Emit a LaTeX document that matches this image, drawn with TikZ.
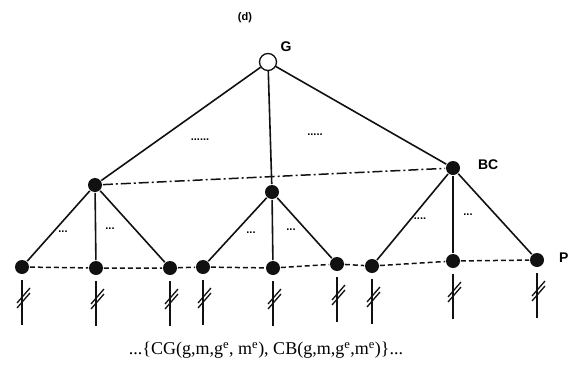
\documentclass[tikz,border=0pt]{standalone}
\usepackage{fontspec}
\setmainfont{Liberation Serif}
\setsansfont{Liberation Sans}
\usetikzlibrary{calc}
\definecolor{ink}{HTML}{111111}

\begin{document}
\begin{tikzpicture}[
    x=1pt, y=-1pt,
    line width=1.6pt,
    every node/.style={font=\sffamily\bfseries},
    leaf/.style={circle, fill=ink, inner sep=0pt, minimum size=14pt},
    root/.style={circle, draw=ink, fill=white, line width=1.3pt, inner sep=0pt, minimum size=17pt},
    rowdash/.style={draw=ink, line width=1.5pt, dash pattern=on 5pt off 3pt},
    rowdashdot/.style={draw=ink, line width=1.5pt, dash pattern=on 10pt off 3pt on 2pt off 3pt},
    gap/.style={font=\sffamily\bfseries\fontsize{11}{12}\selectfont, inner sep=0pt},
    tagfont/.style={font=\sffamily\bfseries\fontsize{14}{16}\selectfont},
  ]
  \useasboundingbox (0,0) rectangle (568,370);

  % ---------- Root and panel tag ------------------------------------------
  \node[font=\sffamily\bfseries\fontsize{11}{12}\selectfont] (tag) at (245,18) {(d)};
  \node[root] (G) at (268,62) {};
  \node[tagfont] (Glabel) at (286,47) {G};

  % ---------- Middle level ------------------------------------------------
  \node[leaf] (m1) at (95,185) {};
  \node[leaf] (m2) at (272,192) {};
  \node[leaf] (m3) at (453,168) {};
  \node[tagfont, anchor=west] (BClabel) at (474,165) {BC};

  % ---------- Leaves ------------------------------------------------------
  \node[leaf] (l1) at (22,267) {};
  \node[leaf] (l2) at (96,268) {};
  \node[leaf] (l3) at (170,268) {};
  \node[leaf] (l4) at (203,267) {};
  \node[leaf] (l5) at (273,268) {};
  \node[leaf] (l6) at (337,264) {};
  \node[leaf] (l7) at (372,266) {};
  \node[leaf] (l8) at (453,261) {};
  \node[leaf] (l9) at (537,260) {};
  \node[tagfont, anchor=west] (Plabel) at (555,258) {P};

  % ---------- Tree edges --------------------------------------------------
  \draw[ink] (G) -- (m1);
  \draw[ink] (G) -- (m2);
  \draw[ink] (G) -- (m3);
  \draw[ink] (m1) -- (l1);
  \draw[ink] (m1) -- (l2);
  \draw[ink] (m1) -- (l3);
  \draw[ink] (m2) -- (l4);
  \draw[ink] (m2) -- (l5);
  \draw[ink] (m2) -- (l6);
  \draw[ink] (m3) -- (l7);
  \draw[ink] (m3) -- (l8);
  \draw[ink] (m3) -- (l9);

  % ---------- Level links -------------------------------------------------
  \draw[rowdashdot] (m1) -- (m3);
  \draw[rowdash] (l1) -- (l2) -- (l3) -- (l4) -- (l5) -- (l6) -- (l7) -- (l8) -- (l9);

  % ---------- Elided branches ---------------------------------------------
  \node[gap] (d1) at (200,140) {......};
  \node[gap] (d2) at (315,135) {.....};
  \node[gap] (d3) at (63,232) {...};
  \node[gap] (d4) at (110,229) {...};
  \node[gap] (d5) at (251,233) {...};
  \node[gap] (d6) at (291,230) {...};
  \node[gap] (d7) at (420,219) {....};
  \node[gap] (d8) at (468,215) {...};

  % ---------- Cut stems below the leaves ----------------------------------
  \foreach \n in {l1,l2,l3,l4,l5,l6,l7,l8,l9} {
    \draw[ink, line width=1.5pt] (\n) ++(0,13) -- ++(0,45);
    \draw[ink, line width=1.3pt] (\n) ++(-5,36) -- ++(13,-15);
    \draw[ink, line width=1.3pt] (\n) ++(-5,41) -- ++(13,-15);
  }

  % ---------- Caption -----------------------------------------------------
  \node[font=\rmfamily\fontsize{18}{21}\selectfont] (caption) at (266,350)
    {...\{CG(g,m,g$^{\mathrm{e}}$, m$^{\mathrm{e}}$), CB(g,m,g$^{\mathrm{e}}$,m$^{\mathrm{e}}$)\}...};

\end{tikzpicture}
\end{document}
